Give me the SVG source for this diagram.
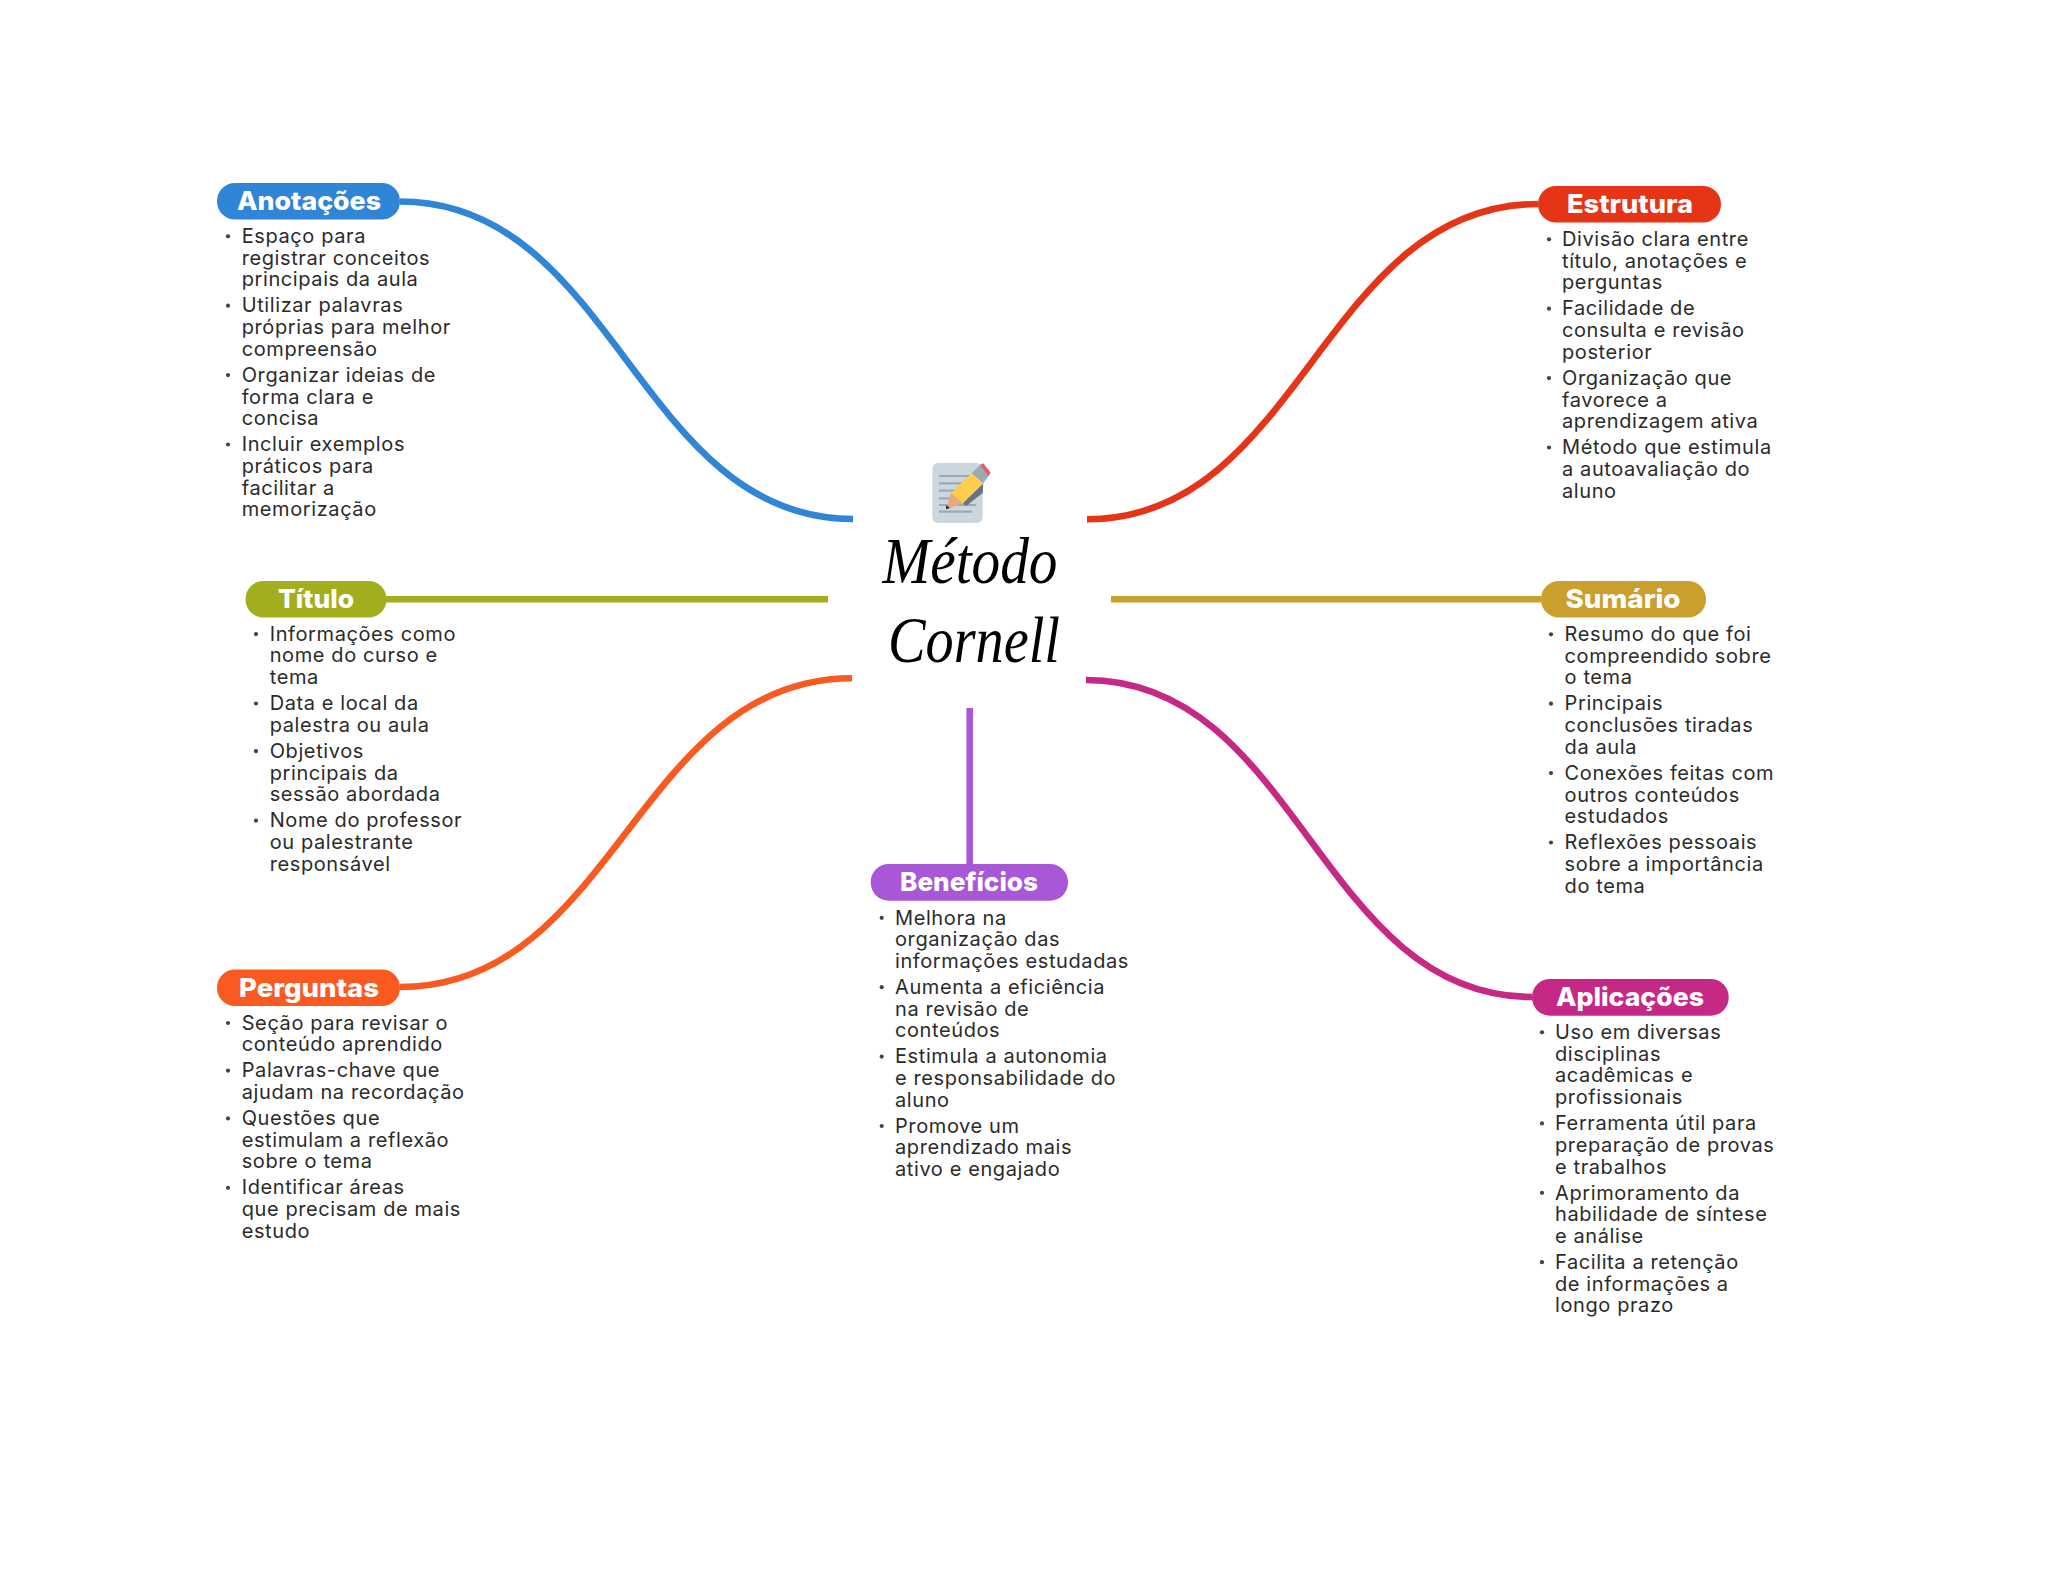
<svg xmlns="http://www.w3.org/2000/svg" width="2048" height="1569" viewBox="0 0 2048 1569">
<style>
.b{font-family:"Inter","Liberation Sans",sans-serif;font-size:20px;letter-spacing:.6px;fill:#2b2b2b}
.p{font-family:"Inter","Liberation Sans",sans-serif;font-size:26px;font-weight:800;fill:#fff;text-anchor:middle}
.t{font-family:"Liberation Serif",serif;font-style:italic;font-size:66px;fill:#000;text-anchor:middle}
.c{fill:none;stroke-width:6.6}
.d{fill:#444}
</style>
<rect width="2048" height="1569" fill="#fff"/>
<g id="connectors">
<path class="c" stroke="#3085D6" d="M400 201.5C615 201.5 638 519 853 519"/>
<path class="c" stroke="#A3AE1E" d="M386 599.3H828"/>
<path class="c" stroke="#FA5A20" d="M400 987C615 987 637 678.3 852 678.3"/>
<path class="c" stroke="#E63417" d="M1538 204C1323 204 1301 519.3 1087 519.3"/>
<path class="c" stroke="#C9A02E" d="M1541 599.3H1111"/>
<path class="c" stroke="#C62886" d="M1532 997C1320 997 1298 680 1086 680"/>
<path class="c" stroke="#A857D6" d="M969.7 708V864"/>
</g>
<g id="center">
<rect x="932.3" y="463" width="50.4" height="60" rx="6" fill="#CCD6DD"/>
<g stroke="#99AAB5" stroke-width="2.2">
<path d="M939 476H975M939 483.3H975M939 490.7H970M939 498.3H970M939 505H976M939 511.7H972"/>
</g>
<polygon points="962.7,503.3 983.3,483.3 982.7,493 966,506" fill="#66757F"/>
<polygon points="950.7,493.3 971.7,473.3 983.3,483.3 962.7,503.3" fill="#FFCC4D"/>
<polygon points="946,509.3 950.7,493.3 962.7,503.3" fill="#E6A97F"/>
<polygon points="946,509.3 946,505 950,508" fill="#292F33"/>
<polygon points="971.7,473.3 980,465 989.3,475 983.3,483.3" fill="#99AAB5"/>
<polygon points="980,465 983.3,463.3 990.7,472.7 988.3,476" fill="#EA596E"/>
<text class="t" x="970" y="583" textLength="175" lengthAdjust="spacingAndGlyphs">Método</text>
<text class="t" x="974" y="662" textLength="172" lengthAdjust="spacingAndGlyphs">Cornell</text>
</g>
<g id="anotacoes">
<rect x="217" y="183" width="183" height="36.5" rx="18" fill="#3085D6"/>
<text class="p" x="309" y="210" textLength="144" lengthAdjust="spacingAndGlyphs">Anotações</text>
<circle class="d" cx="228" cy="236.3" r="2.1"/><circle class="d" cx="228" cy="305.7" r="2.1"/><circle class="d" cx="228" cy="375.1" r="2.1"/><circle class="d" cx="228" cy="444.5" r="2.1"/>
<text class="b" x="241.7" y="243">Espaço para</text>
<text class="b" x="241.7" y="264.7">registrar conceitos</text>
<text class="b" x="241.7" y="286.4">principais da aula</text>
<text class="b" x="241.7" y="312.4">Utilizar palavras</text>
<text class="b" x="241.7" y="334.1">próprias para melhor</text>
<text class="b" x="241.7" y="355.8">compreensão</text>
<text class="b" x="241.7" y="381.8">Organizar ideias de</text>
<text class="b" x="241.7" y="403.5">forma clara e</text>
<text class="b" x="241.7" y="425.2">concisa</text>
<text class="b" x="241.7" y="451.2">Incluir exemplos</text>
<text class="b" x="241.7" y="472.9">práticos para</text>
<text class="b" x="241.7" y="494.6">facilitar a</text>
<text class="b" x="241.7" y="516.3">memorização</text>
</g>
<g id="titulo">
<rect x="245.5" y="581" width="141" height="36.5" rx="18" fill="#A3AE1E"/>
<text class="p" x="316" y="608" textLength="76" lengthAdjust="spacingAndGlyphs">Título</text>
<g transform="translate(0 .8)">
<circle class="d" cx="256" cy="633.3" r="2.1"/><circle class="d" cx="256" cy="702.7" r="2.1"/><circle class="d" cx="256" cy="750.4" r="2.1"/><circle class="d" cx="256" cy="819.8" r="2.1"/>
<text class="b" x="269.7" y="640">Informações como</text>
<text class="b" x="269.7" y="661.7">nome do curso e</text>
<text class="b" x="269.7" y="683.4">tema</text>
<text class="b" x="269.7" y="709.4">Data e local da</text>
<text class="b" x="269.7" y="731.1">palestra ou aula</text>
<text class="b" x="269.7" y="757.1">Objetivos</text>
<text class="b" x="269.7" y="778.8">principais da</text>
<text class="b" x="269.7" y="800.5">sessão abordada</text>
<text class="b" x="269.7" y="826.5">Nome do professor</text>
<text class="b" x="269.7" y="848.2">ou palestrante</text>
<text class="b" x="269.7" y="869.9">responsável</text>
</g>
</g>
<g id="perguntas">
<rect x="217" y="969.5" width="183" height="36.5" rx="18" fill="#FA5A20"/>
<text class="p" x="309" y="996.5" textLength="140" lengthAdjust="spacingAndGlyphs">Perguntas</text>
<g transform="translate(0 .7)">
<circle class="d" cx="228" cy="1022.3" r="2.1"/><circle class="d" cx="228" cy="1070" r="2.1"/><circle class="d" cx="228" cy="1117.7" r="2.1"/><circle class="d" cx="228" cy="1187.1" r="2.1"/>
<text class="b" x="241.7" y="1029">Seção para revisar o</text>
<text class="b" x="241.7" y="1050.7">conteúdo aprendido</text>
<text class="b" x="241.7" y="1076.7">Palavras-chave que</text>
<text class="b" x="241.7" y="1098.4">ajudam na recordação</text>
<text class="b" x="241.7" y="1124.4">Questões que</text>
<text class="b" x="241.7" y="1146.1">estimulam a reflexão</text>
<text class="b" x="241.7" y="1167.8">sobre o tema</text>
<text class="b" x="241.7" y="1193.8">Identificar áreas</text>
<text class="b" x="241.7" y="1215.5">que precisam de mais</text>
<text class="b" x="241.7" y="1237.2">estudo</text>
</g>
</g>
<g id="estrutura">
<rect x="1538" y="186" width="183" height="36.5" rx="18" fill="#E63417"/>
<text class="p" x="1630" y="213" textLength="126" lengthAdjust="spacingAndGlyphs">Estrutura</text>
<g transform="translate(0 .5)">
<circle class="d" cx="1549" cy="238.8" r="2.1"/><circle class="d" cx="1549" cy="308.2" r="2.1"/><circle class="d" cx="1549" cy="377.6" r="2.1"/><circle class="d" cx="1549" cy="447" r="2.1"/>
<text class="b" x="1562" y="245.5">Divisão clara entre</text>
<text class="b" x="1562" y="267.2">título, anotações e</text>
<text class="b" x="1562" y="288.9">perguntas</text>
<text class="b" x="1562" y="314.9">Facilidade de</text>
<text class="b" x="1562" y="336.6">consulta e revisão</text>
<text class="b" x="1562" y="358.3">posterior</text>
<text class="b" x="1562" y="384.3">Organização que</text>
<text class="b" x="1562" y="406">favorece a</text>
<text class="b" x="1562" y="427.7">aprendizagem ativa</text>
<text class="b" x="1562" y="453.7">Método que estimula</text>
<text class="b" x="1562" y="475.4">a autoavaliação do</text>
<text class="b" x="1562" y="497.1">aluno</text>
</g>
</g>
<g id="sumario">
<rect x="1541" y="581" width="165" height="36.5" rx="18" fill="#C9A02E"/>
<text class="p" x="1623" y="608" textLength="115" lengthAdjust="spacingAndGlyphs">Sumário</text>
<g transform="translate(0 1)">
<circle class="d" cx="1551" cy="633.3" r="2.1"/><circle class="d" cx="1551" cy="702.7" r="2.1"/><circle class="d" cx="1551" cy="772.1" r="2.1"/><circle class="d" cx="1551" cy="841.5" r="2.1"/>
<text class="b" x="1564.6" y="640">Resumo do que foi</text>
<text class="b" x="1564.6" y="661.7">compreendido sobre</text>
<text class="b" x="1564.6" y="683.4">o tema</text>
<text class="b" x="1564.6" y="709.4">Principais</text>
<text class="b" x="1564.6" y="731.1">conclusões tiradas</text>
<text class="b" x="1564.6" y="752.8">da aula</text>
<text class="b" x="1564.6" y="778.8">Conexões feitas com</text>
<text class="b" x="1564.6" y="800.5">outros conteúdos</text>
<text class="b" x="1564.6" y="822.2">estudados</text>
<text class="b" x="1564.6" y="848.2">Reflexões pessoais</text>
<text class="b" x="1564.6" y="869.9">sobre a importância</text>
<text class="b" x="1564.6" y="891.6">do tema</text>
</g>
</g>
<g id="aplicacoes">
<rect x="1532" y="979" width="196.7" height="36.7" rx="18" fill="#C62886"/>
<text class="p" x="1630" y="1006" textLength="148" lengthAdjust="spacingAndGlyphs">Aplicações</text>
<g transform="translate(0 1)">
<circle class="d" cx="1542" cy="1031.3" r="2.1"/><circle class="d" cx="1542" cy="1122.4" r="2.1"/><circle class="d" cx="1542" cy="1191.8" r="2.1"/><circle class="d" cx="1542" cy="1261.2" r="2.1"/>
<text class="b" x="1555" y="1038">Uso em diversas</text>
<text class="b" x="1555" y="1059.7">disciplinas</text>
<text class="b" x="1555" y="1081.4">acadêmicas e</text>
<text class="b" x="1555" y="1103.1">profissionais</text>
<text class="b" x="1555" y="1129.1">Ferramenta útil para</text>
<text class="b" x="1555" y="1150.8">preparação de provas</text>
<text class="b" x="1555" y="1172.5">e trabalhos</text>
<text class="b" x="1555" y="1198.5">Aprimoramento da</text>
<text class="b" x="1555" y="1220.2">habilidade de síntese</text>
<text class="b" x="1555" y="1241.9">e análise</text>
<text class="b" x="1555" y="1267.9">Facilita a retenção</text>
<text class="b" x="1555" y="1289.6">de informações a</text>
<text class="b" x="1555" y="1311.3">longo prazo</text>
</g>
</g>
<g id="beneficios">
<rect x="870.7" y="864" width="197.3" height="36.7" rx="18" fill="#A857D6"/>
<text class="p" x="969" y="890.7" textLength="138" lengthAdjust="spacingAndGlyphs">Benefícios</text>
<g transform="translate(0 .5)">
<circle class="d" cx="881.7" cy="917.3" r="2.1"/><circle class="d" cx="881.7" cy="986.7" r="2.1"/><circle class="d" cx="881.7" cy="1056.1" r="2.1"/><circle class="d" cx="881.7" cy="1125.5" r="2.1"/>
<text class="b" x="895" y="924">Melhora na</text>
<text class="b" x="895" y="945.7">organização das</text>
<text class="b" x="895" y="967.4">informações estudadas</text>
<text class="b" x="895" y="993.4">Aumenta a eficiência</text>
<text class="b" x="895" y="1015.1">na revisão de</text>
<text class="b" x="895" y="1036.8">conteúdos</text>
<text class="b" x="895" y="1062.8">Estimula a autonomia</text>
<text class="b" x="895" y="1084.5">e responsabilidade do</text>
<text class="b" x="895" y="1106.2">aluno</text>
<text class="b" x="895" y="1132.2">Promove um</text>
<text class="b" x="895" y="1153.9">aprendizado mais</text>
<text class="b" x="895" y="1175.6">ativo e engajado</text>
</g>
</g>
</svg>
